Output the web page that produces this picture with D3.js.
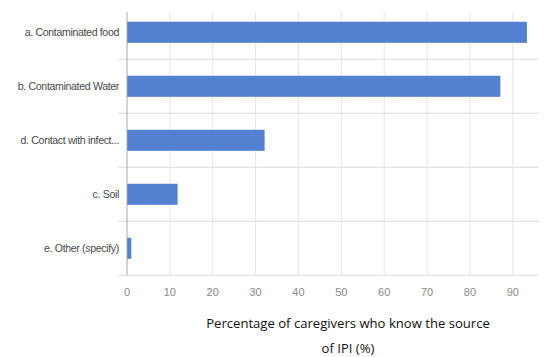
<!DOCTYPE html>
<html><head><meta charset="utf-8">
<script src="https://cdn.jsdelivr.net/npm/d3@7"></script>
<style>body{margin:0;background:#fff}</style>
</head><body>
<svg id="c" width="547" height="357"></svg>
<script>
const categories = ["a. Contaminated food","b. Contaminated Water","d. Contact with infect...","c. Soil","e. Other (specify)"];
const values = [93.3, 87.1, 32.1, 11.8, 1.0];
const xTicks = [0,10,20,30,40,50,60,70,80,90];
const titleLines = ["Percentage of caregivers who know the source","of IPI (%)"];

const svg = d3.select("#c");
const x = d3.scaleLinear().domain([0,96]).range([127,538.5]);
const y = d3.scaleBand().domain(categories).range([5.3,275.3]).paddingInner(0.61).paddingOuter(0.305);
const yB = d3.scaleBand().domain(categories).range([5.3,275.3]);

// vertical grid
svg.append("g").selectAll("line").data(xTicks.slice(1)).join("line")
  .attr("x1",d=>x(d)).attr("x2",d=>x(d)).attr("y1",12).attr("y2",275.3)
  .attr("stroke","#e6e6e6").attr("stroke-width",1);
// horizontal separators
svg.append("g").selectAll("line").data(categories.slice(1).concat(["__end"])).join("line")
  .attr("x1",118).attr("x2",539)
  .attr("y1",(d,i)=> i<categories.length-1 ? yB(d) : 275.3)
  .attr("y2",(d,i)=> i<categories.length-1 ? yB(d) : 275.3)
  .attr("stroke","#e3e3e3").attr("stroke-width",1.2);

// bars
svg.append("g").selectAll("rect").data(values).join("rect")
  .attr("x",x(0)).attr("y",(d,i)=>y(categories[i]))
  .attr("width",d=>x(d)-x(0)).attr("height",y.bandwidth())
  .attr("fill","#5480d2");

// axis line
svg.append("line").attr("x1",x(0)).attr("x2",x(0)).attr("y1",12).attr("y2",275.3)
  .attr("stroke","#a8a8a8").attr("stroke-width",1);

// x tick labels
svg.append("g").selectAll("text").data(xTicks).join("text")
  .attr("x",d=>x(d)).attr("y",296).attr("text-anchor","middle")
  .attr("font-family","Liberation Sans, Arial, sans-serif").attr("font-size",11)
  .attr("fill","#8a8a8a").text(d=>d);

// category labels
svg.append("g").selectAll("text").data(categories).join("text")
  .attr("x",119).attr("y",d=>yB(d)+yB.bandwidth()/2+4).attr("text-anchor","end")
  .attr("font-family","Liberation Sans, Arial, sans-serif").attr("font-size",10.6)
  .attr("letter-spacing","-0.35")
  .attr("fill","#4a4a4a").text(d=>d);

// title
svg.append("g").selectAll("text").data(titleLines).join("text")
  .attr("x",348).attr("y",(d,i)=>328+i*25).attr("text-anchor","middle")
  .attr("font-family","Open Sans, sans-serif").attr("font-size",13.1)
  .attr("fill","#111").text(d=>d);
</script>
</body></html>
